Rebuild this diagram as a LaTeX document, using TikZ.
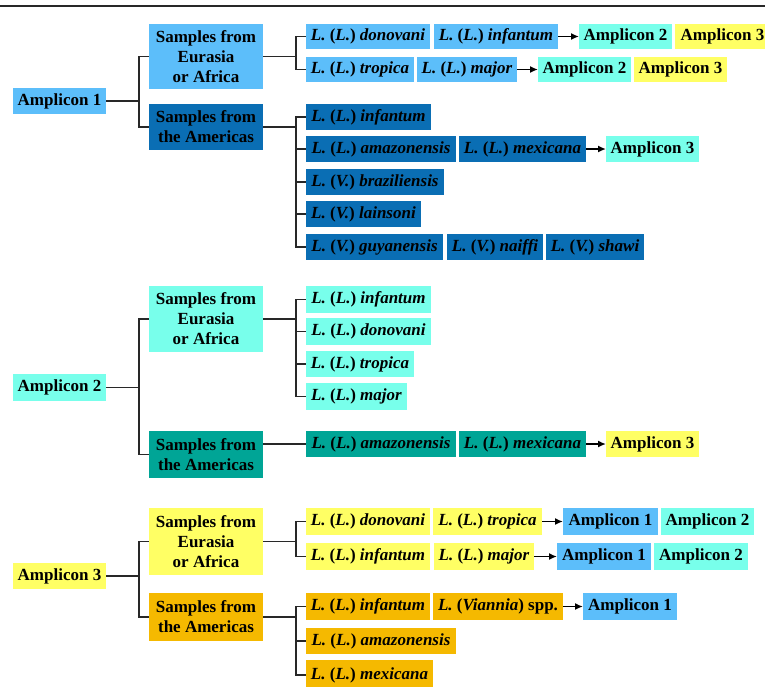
\documentclass[tikz,border=0pt]{standalone}
\usepackage{fontspec}
\setmainfont{Liberation Serif}
\usetikzlibrary{arrows.meta}
\definecolor{lblue}{RGB}{92,190,250}
\definecolor{dblue}{RGB}{10,110,180}
\definecolor{cyanb}{RGB}{120,255,235}
\definecolor{tealb}{RGB}{0,165,150}
\definecolor{yellb}{RGB}{255,255,100}
\definecolor{orangeb}{RGB}{245,185,0}
\definecolor{linec}{RGB}{40,40,40}
\newcommand{\bx}[7]{\node[box,fill=#6,minimum width={#4-#2},minimum height={#5-#3}] (#1) at ({(#2+#4)/2},{(#3+#5)/2}) {#7};}
\newcommand{\LL}[1]{\textit{L.} (\textit{L.}) \textit{#1}}
\newcommand{\LV}[1]{\textit{L.} (\textit{V.}) \textit{#1}}
\begin{document}
\begin{tikzpicture}[x=1pt,y=-1pt,
  box/.style={inner sep=0pt,outer sep=0pt,align=center,text=black,
    font=\bfseries\fontsize{17}{20}\selectfont},
  conn/.style={draw=linec,line width=1.9pt},
  arr/.style={draw=black,line width=1.9pt,-{Latex[length=8pt,width=7pt]}}]
\useasboundingbox (0,0) rectangle (765,686);
\clip (0,0) rectangle (765,686);
\draw[line width=2.2pt,draw=linec] (0,6) -- (765,6);
% ---------- Section 1
\bx{a1}{13}{88}{106}{114}{lblue}{Amplicon 1}
\bx{e1}{149}{24}{263}{89}{lblue}{Samples from\\Eurasia\\or Africa}
\bx{m1}{149}{104}{263}{150}{dblue}{Samples from\\the Americas}
\bx{n11}{306}{24}{430}{49}{lblue}{\LL{donovani}}
\bx{n12}{434}{24}{558}{49}{lblue}{\LL{infantum}}
\bx{r11}{579}{24}{672}{49}{cyanb}{Amplicon 2}
\bx{r12}{675}{24}{770}{49}{yellb}{Amplicon 3}
\bx{n13}{306}{57}{414}{82}{lblue}{\LL{tropica}}
\bx{n14}{417}{57}{517}{82}{lblue}{\LL{major}}
\bx{r13}{538}{57}{631}{82}{cyanb}{Amplicon 2}
\bx{r14}{634}{57}{727}{82}{yellb}{Amplicon 3}
\bx{p11}{306}{104}{431}{130}{dblue}{\LL{infantum}}
\bx{p12}{306}{136}{456}{162}{dblue}{\LL{amazonensis}}
\bx{p13}{459}{136}{586}{162}{dblue}{\LL{mexicana}}
\bx{q11}{606}{136}{699}{162}{cyanb}{Amplicon 3}
\bx{p14}{306}{169}{444}{195}{dblue}{\LV{braziliensis}}
\bx{p15}{306}{201}{421}{227}{dblue}{\LV{lainsoni}}
\bx{p16}{306}{234}{443}{260}{dblue}{\LV{guyanensis}}
\bx{p17}{447}{234}{543}{260}{dblue}{\LV{naiffi}}
\bx{p18}{546}{234}{644}{260}{dblue}{\LV{shawi}}
\draw[conn] (a1.east) -- ++(33,0) |- (e1.west);
\draw[conn] (a1.east) -- ++(33,0) |- (m1.west);
\foreach \c in {n11,n13} \draw[conn] (e1.east) -- ++(33,0) |- (\c.west);
\foreach \c in {p11,p12,p14,p15,p16} \draw[conn] (m1.east) -- ++(33,0) |- (\c.west);
\draw[arr] (n12.east) -- (r11.west);
\draw[arr] (n14.east) -- (r13.west);
\draw[arr] (p13.east) -- (q11.west);
% ---------- Section 2
\bx{a2}{13}{374}{106}{401}{cyanb}{Amplicon 2}
\bx{e2}{149}{286}{263}{352}{cyanb}{Samples from\\Eurasia\\or Africa}
\bx{m2}{149}{431}{263}{478}{tealb}{Samples from\\the Americas}
\bx{c21}{306}{286}{431}{313}{cyanb}{\LL{infantum}}
\bx{c22}{306}{318}{431}{345}{cyanb}{\LL{donovani}}
\bx{c23}{306}{351}{414}{377}{cyanb}{\LL{tropica}}
\bx{c24}{306}{383}{407}{410}{cyanb}{\LL{major}}
\bx{t21}{306}{431}{456}{457}{tealb}{\LL{amazonensis}}
\bx{t22}{459}{431}{586}{457}{tealb}{\LL{mexicana}}
\bx{s21}{606}{431}{699}{457}{yellb}{Amplicon 3}
\draw[conn] (a2.east) -- ++(33,0) |- (e2.west);
\draw[conn] (a2.east) -- ++(33,0) |- (m2.west);
\foreach \c in {c21,c22,c23,c24} \draw[conn] (e2.east) -- ++(33,0) |- (\c.west);
\draw[conn] (m2.east |- t21.west) -- (t21.west);
\draw[arr] (t22.east) -- (s21.west);
% ---------- Section 3
\bx{a3}{13}{563}{106}{589}{yellb}{Amplicon 3}
\bx{e3}{149}{508}{263}{575}{yellb}{Samples from\\Eurasia\\or Africa}
\bx{m3}{149}{593}{263}{641}{orangeb}{Samples from\\the Americas}
\bx{y31}{306}{508}{430}{535}{yellb}{\LL{donovani}}
\bx{y32}{433}{508}{542}{535}{yellb}{\LL{tropica}}
\bx{z31}{563}{508}{658}{535}{lblue}{Amplicon 1}
\bx{z32}{661}{508}{754}{535}{cyanb}{Amplicon 2}
\bx{y33}{306}{543}{430}{570}{yellb}{\LL{infantum}}
\bx{y34}{434}{543}{534}{570}{yellb}{\LL{major}}
\bx{z33}{557}{543}{651}{570}{lblue}{Amplicon 1}
\bx{z34}{654}{543}{748}{570}{cyanb}{Amplicon 2}
\bx{o31}{306}{593}{430}{620}{orangeb}{\LL{infantum}}
\bx{o32}{433}{593}{563}{620}{orangeb}{\textit{L.} (\textit{Viannia}) spp.}
\bx{z35}{583}{593}{677}{620}{lblue}{Amplicon 1}
\bx{o33}{306}{628}{456}{654}{orangeb}{\LL{amazonensis}}
\bx{o34}{306}{660}{433}{690}{orangeb}{\LL{mexicana}}
\draw[conn] (a3.east) -- ++(33,0) |- (e3.west);
\draw[conn] (a3.east) -- ++(33,0) |- (m3.west);
\foreach \c in {y31,y33} \draw[conn] (e3.east) -- ++(33,0) |- (\c.west);
\foreach \c in {o31,o33,o34} \draw[conn] (m3.east) -- ++(33,0) |- (\c.west);
\draw[arr] (y32.east) -- (z31.west);
\draw[arr] (y34.east) -- (z33.west);
\draw[arr] (o32.east) -- (z35.west);
\end{tikzpicture}
\end{document}
